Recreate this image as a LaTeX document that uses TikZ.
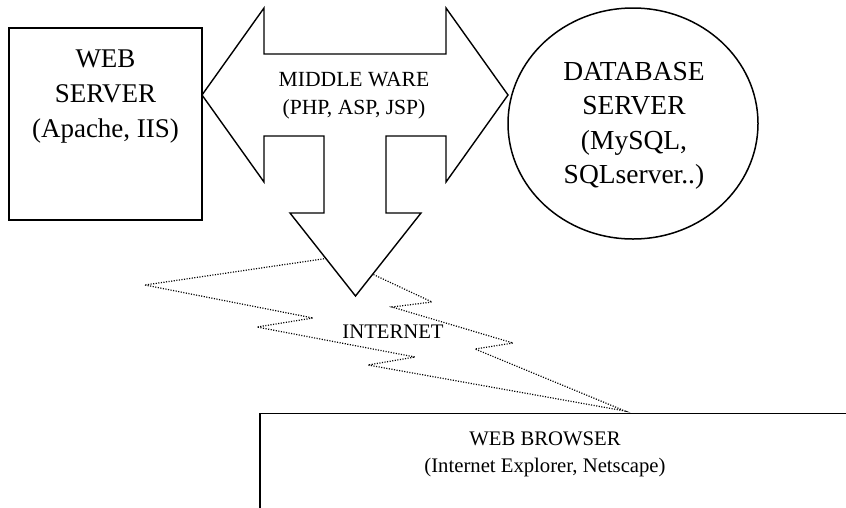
\documentclass[tikz,border=0pt]{standalone}
\usepackage{fontspec}
\setmainfont{Liberation Serif}
\usetikzlibrary{shapes.geometric}
\begin{document}
\begin{tikzpicture}[x=1pt,y=-1pt,
  box/.style={draw, line width=1.5pt, inner sep=0pt},
  lightning/.style={line width=1.2pt, dash pattern=on 1.1pt off 1.5pt},
  bigarrow/.style={draw, fill=white, line width=1.4pt, line join=miter},
  bigtext/.style={font=\fontsize{27}{35}\selectfont, align=center, inner sep=0pt},
  midtext/.style={font=\fontsize{21.6}{28}\selectfont, align=center, inner sep=0pt},
  smalltext/.style={font=\fontsize{20.7}{27}\selectfont, align=center, inner sep=0pt}]
\useasboundingbox (0,0) rectangle (846,507);
% internet lightning
\draw[lightning] (145,285) -- (313,318) -- (257,327) -- (415,357) -- (368,365)
  -- (625,411) -- (475,349) -- (513,343) -- (392,307) -- (432,302) -- (336,257) -- cycle;
% web server box
\node[box, minimum width=193pt, minimum height=192pt] (web) at (105.5,124) {};
\node[bigtext, anchor=north] (webtxt) at (105.5,50) {WEB\\SERVER\\(Apache, IIS)};
% database ellipse
\node[box, ellipse, minimum width=250pt, minimum height=231pt] (db) at (633,123.5) {};
\node[bigtext, anchor=north, font=\fontsize{27.5}{34.5}\selectfont] (dbtxt) at (634,62) {DATABASE\\SERVER\\(MySQL,\\SQLserver..)};
% middleware arrow
\draw[bigarrow] (202,95) -- (264,8) -- (264,54) -- (446,54) -- (446,8) -- (508,95)
  -- (446,182) -- (446,136) -- (386,136) -- (386,213) -- (421,213) -- (355.5,296)
  -- (290,213) -- (324,213) -- (324,136) -- (264,136) -- (264,182) -- cycle;
\node[midtext, anchor=north] (midtxt) at (354,72) {MIDDLE WARE\\(PHP, ASP, JSP)};
% internet label
\node[smalltext, anchor=base] (inettxt) at (393,338) {INTERNET};
% web browser box
\node[box, anchor=north west, minimum width=640pt, minimum height=130pt] (browser) at (259,412.5) {};
\node[smalltext, anchor=north] (browsertxt) at (545,432) {WEB BROWSER\\(Internet Explorer, Netscape)};
\end{tikzpicture}
\end{document}
